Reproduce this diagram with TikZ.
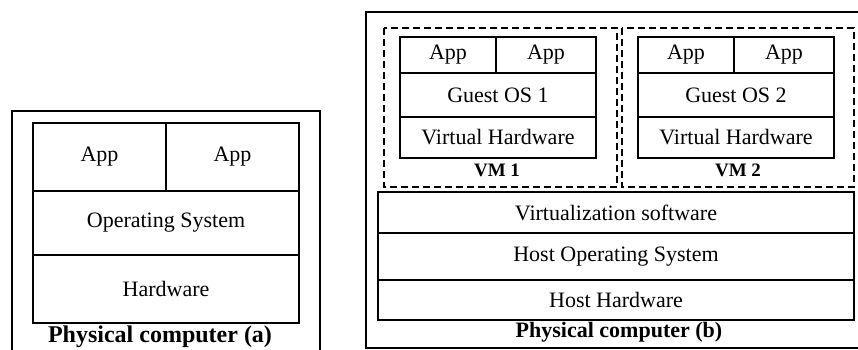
\documentclass[tikz,border=0pt]{standalone}
\usepackage{fontspec}
\setmainfont{Liberation Serif}
\begin{document}
\begin{tikzpicture}[x=1pt,y=-1pt,
  cell/.style={draw,line width=1.2pt,inner sep=0pt,outer sep=0pt,
    font=\fontsize{22}{26}\selectfont,align=center},
  vmbox/.style={draw,line width=1.2pt,dash pattern=on 7pt off 4pt},
  frame/.style={draw,line width=1.1pt},
  lbl/.style={inner sep=0pt,font=\fontsize{22}{26}\selectfont\bfseries},
  vmlbl/.style={inner sep=0pt,font=\fontsize{19}{22}\selectfont\bfseries}]
\useasboundingbox (0,0) rectangle (858,349);
% outer frames
\coordinate (fa1) at (12,360);
\coordinate (fa2) at (12,111);
\coordinate (fa3) at (320,111);
\coordinate (fa4) at (320,360);
\draw[frame] (fa1) -- (fa2) -- (fa3) -- (fa4);
\coordinate (fb1) at (870,12);
\coordinate (fb2) at (366,12);
\coordinate (fb3) at (366,348);
\coordinate (fb4) at (870,348);
\draw[frame] (fb1) -- (fb2) -- (fb3) -- (fb4);
% (a)
\node[cell,minimum width=133pt,minimum height=68pt] (appa1) at (99.5,157) {App};
\node[cell,minimum width=133pt,minimum height=68pt] (appa2) at (232.5,157) {App};
\node[cell,minimum width=266pt,minimum height=64pt] (osa) at (166,223) {Operating System};
\node[cell,minimum width=266pt,minimum height=68pt] (hwa) at (166,289) {Hardware};
\node[lbl,font=\fontsize{24}{28}\selectfont\bfseries] (laba) at (160,337) {Physical computer (a)};
% VM 1
\coordinate (v1a) at (384,28);
\coordinate (v1b) at (617,187);
\draw[vmbox] (v1a) rectangle (v1b);
\node[cell,minimum width=96pt,minimum height=36pt] (app11) at (448,55) {App};
\node[cell,minimum width=100pt,minimum height=36pt] (app12) at (546,55) {App};
\node[cell,minimum width=196pt,minimum height=44pt] (guest1) at (498,95) {Guest OS 1};
\node[cell,minimum width=196pt,minimum height=41pt] (vhw1) at (498,137.5) {Virtual Hardware};
\node[vmlbl] (vm1) at (497,170) {VM 1};
% VM 2
\coordinate (v2a) at (622,28);
\coordinate (v2b) at (854,187);
\draw[vmbox] (v2a) rectangle (v2b);
\node[cell,minimum width=96pt,minimum height=36pt] (app21) at (686,55) {App};
\node[cell,minimum width=100pt,minimum height=36pt] (app22) at (784,55) {App};
\node[cell,minimum width=196pt,minimum height=44pt] (guest2) at (736,95) {Guest OS 2};
\node[cell,minimum width=196pt,minimum height=41pt] (vhw2) at (736,137.5) {Virtual Hardware};
\node[vmlbl] (vm2) at (738,170) {VM 2};
% host stack
\node[cell,minimum width=476pt,minimum height=41pt] (virt) at (616,212.5) {Virtualization software};
\node[cell,minimum width=476pt,minimum height=47pt] (hostos) at (616,256.5) {Host Operating System};
\node[cell,minimum width=476pt,minimum height=40pt] (hosthw) at (616,300) {Host Hardware};
\node[lbl] (labb) at (619,332) {Physical computer (b)};
\end{tikzpicture}
\end{document}
